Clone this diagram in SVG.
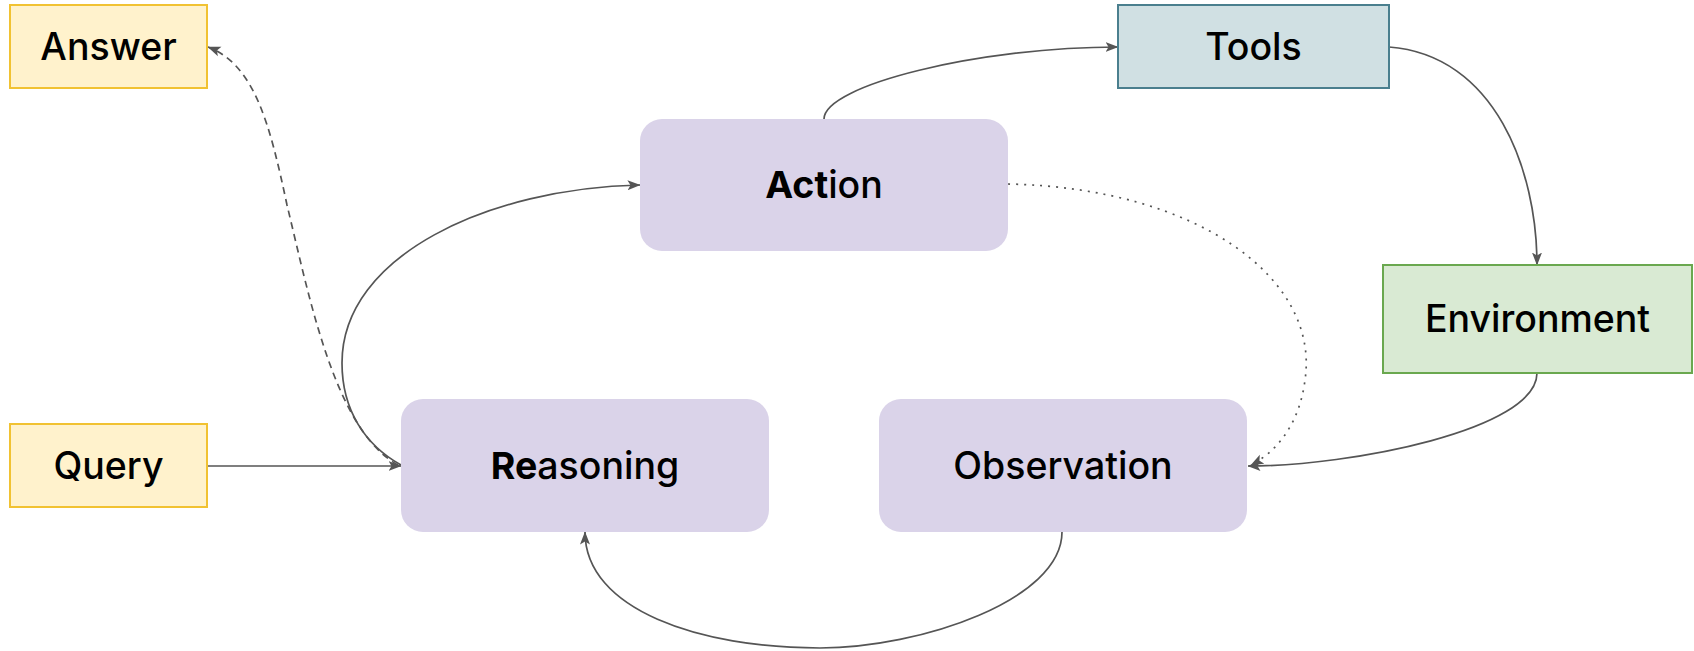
<svg xmlns="http://www.w3.org/2000/svg" width="1694" height="651" viewBox="0 0 1694 651">
  <style>
    .lbl { font-family: Inter, "Noto Sans", "Liberation Sans", sans-serif; font-size: 37.5px; font-weight: 500; fill: #000; text-anchor: middle; }
    .b { font-weight: 700; }
    .step { fill: #dad3e9; stroke: none; }
    .io { fill: #fff2cc; stroke: #f1c232; stroke-width: 2; }
    .tools { fill: #d0e0e3; stroke: #4a7f8e; stroke-width: 2; }
    .env { fill: #d9ead3; stroke: #6aa84f; stroke-width: 2; }
    .edge { fill: none; stroke: #555; stroke-width: 1.7; }
    .dash { stroke-dasharray: 7 5; }
    .dot { stroke-dasharray: 2 6; }
  </style>
  <defs>
    <!-- classic notched arrowhead, tip at the path end -->
    <marker id="arr" viewBox="0 0 13 11" refX="12.5" refY="5.5" markerWidth="13" markerHeight="11" markerUnits="userSpaceOnUse" orient="auto">
      <path d="M0,0.5 L13,5.5 L0,10.5 L3,5.5 Z" fill="#555"/>
    </marker>
  </defs>

  <rect width="1694" height="651" fill="#fff"/>

  <g id="connectors">
    <!-- Query to Reasoning -->
    <path class="edge" d="M208 466 L401 466" marker-end="url(#arr)"/>
    <!-- Reasoning to Action -->
    <path class="edge" d="M401 465 C365 445 342 410 342 363 C342 255 490 188 640 185" marker-end="url(#arr)"/>
    <!-- Reasoning to Answer -->
    <path class="edge dash" d="M398 465 C335 430 310 300 287 205 C270 125 255 65 208 47" marker-end="url(#arr)"/>
    <!-- Action to Tools -->
    <path class="edge" d="M824 119 C824 85 980 47 1118 47" marker-end="url(#arr)"/>
    <!-- Tools to Environment -->
    <path class="edge" d="M1389 47 C1495 55 1537 170 1537 265" marker-end="url(#arr)"/>
    <!-- Environment to Observation -->
    <path class="edge" d="M1537 373 C1537 430 1350 466 1248 466" marker-end="url(#arr)"/>
    <!-- Action to Observation -->
    <path class="edge dot" d="M1008 184 C1200 188 1320 280 1305 380 C1300 420 1280 450 1251 465" marker-end="url(#arr)"/>
    <!-- Observation to Reasoning -->
    <path class="edge" d="M1062 532 C1062 600 920 648 820 648 C700 648 585 610 585 532" marker-end="url(#arr)"/>
  </g>

  <g id="answer">
    <rect class="io" x="10" y="5" width="197" height="83"/>
    <text class="lbl" x="108.5" y="60">Answer</text>
  </g>
  <g id="query">
    <rect class="io" x="10" y="424" width="197" height="83"/>
    <text class="lbl" x="108.5" y="479">Query</text>
  </g>
  <g id="tools">
    <rect class="tools" x="1118" y="5" width="271" height="83"/>
    <text class="lbl" x="1253.5" y="60">Tools</text>
  </g>
  <g id="environment">
    <rect class="env" x="1383" y="265" width="309" height="108"/>
    <text class="lbl" x="1537.5" y="332">Environment</text>
  </g>
  <g id="action">
    <rect class="step" x="640" y="119" width="368" height="132" rx="22"/>
    <text class="lbl" x="824" y="198"><tspan class="b">Act</tspan>ion</text>
  </g>
  <g id="reasoning">
    <rect class="step" x="401" y="399" width="368" height="133" rx="22"/>
    <text class="lbl" x="585" y="479"><tspan class="b">Re</tspan>asoning</text>
  </g>
  <g id="observation">
    <rect class="step" x="879" y="399" width="368" height="133" rx="22"/>
    <text class="lbl" x="1063" y="479">Observation</text>
  </g>
</svg>
